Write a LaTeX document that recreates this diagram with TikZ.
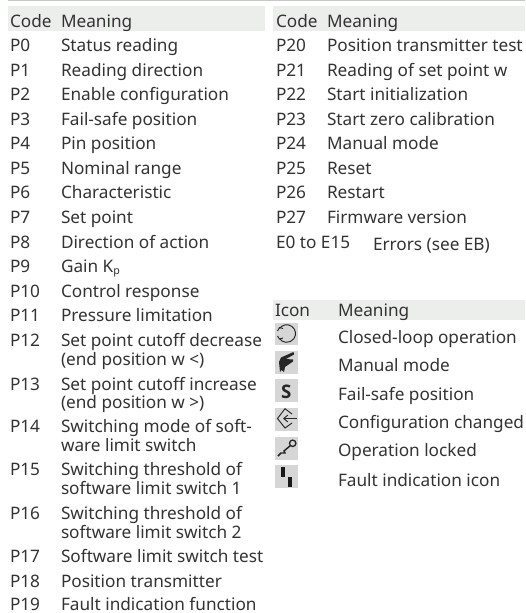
\documentclass[tikz,border=0pt]{standalone}
\usepackage{fontspec}
\usetikzlibrary{arrows.meta}
\setmainfont{Noto Sans}
\newfontfamily\iconsfont{Open Sans}
\definecolor{ink}{HTML}{333333}
\definecolor{band}{HTML}{ECEEEC}
\definecolor{iconbg}{HTML}{D6D6D6}
\definecolor{rulec}{HTML}{C8C8C8}
\tikzset{
  txt/.style={anchor=base west,inner sep=0pt,outer sep=0pt,text=ink,font=\fontsize{12.9pt}{14pt}\selectfont},
  bandbox/.style={fill=band,draw=none},
  iconbox/.style={fill=iconbg,draw=none},
  iconline/.style={draw=black!85,line width=0.7pt}
}
\begin{document}
\begin{tikzpicture}[x=0.75pt,y=-0.75pt]
\useasboundingbox (0,0) rectangle (525,613);
\fill[white] (0,0) rectangle (525,613);
\fill[rulec] (8,0) rectangle (525,1.2);
\path[bandbox] (8,6) rectangle (265,30.7);
\path[bandbox] (272.7,6) rectangle (525,30.7);
\path[bandbox] (272.7,300) rectangle (525,320);
% left column
\node[txt] (lh1) at (10,27.3) {Code};
\node[txt] (lh2) at (61,27.3) {Meaning};
\foreach \n/\y/\c/\m in {
 a/51.6/P0/Status reading, b/76.2/P1/Reading direction, c/100.7/P2/Enable configuration,
 d/125.3/P3/Fail-safe position, e/149.8/P4/Pin position, f/174.4/P5/Nominal range,
 g/198.9/P6/Characteristic, h/223.5/P7/Set point, i/248/P8/Direction of action,
 k/297/P10/Control response, l/321.6/P11/Pressure limitation,
 m/346.7/P12/Set point cutoff decrease, n/390/P13/Set point cutoff increase,
 o/432.7/P14/Switching mode of soft-, p/475.5/P15/Switching threshold of,
 q/519/P16/Switching threshold of, r/562.7/P17/Software limit switch test,
 s/587/P18/Position transmitter, t/610.7/P19/Fault indication function}{
  \node[txt] (c\n) at (10,\y) {\c};
  \node[txt] (m\n) at (61,\y) {\m};
}
\node[txt] (cj) at (10,272.6) {P9};
\node[txt] (mj) at (61,272.6) {Gain K\raisebox{-1.3pt}{\fontsize{8pt}{9pt}\selectfont p}};
\node[txt] (m2) at (61,365) {(end position w <)};
\node[txt] (n2) at (61,408.3) {(end position w >)};
\node[txt] (o2) at (61,451.7) {ware limit switch};
\node[txt] (p2) at (61,494.5) {software limit switch 1};
\node[txt] (q2) at (61,538) {software limit switch 2};
% right column
\node[txt] (rh1) at (276,27.3) {Code};
\node[txt] (rh2) at (327,27.3) {Meaning};
\foreach \n/\y/\c/\m in {
 a/51.6/P20/Position transmitter test, b/76.2/P21/Reading of set point w, c/100.7/P22/Start initialization,
 d/125.3/P23/Start zero calibration, e/149.8/P24/Manual mode, f/174.4/P25/Reset,
 g/198.9/P26/Restart, h/223/P27/Firmware version}{
  \node[txt] (rc\n) at (276,\y) {\c};
  \node[txt] (rm\n) at (327,\y) {\m};
}
\node[txt] (rci) at (276,248) {E0 to E15};
\node[txt] (rmi) at (373,250.7) {Errors (see EB)};
% icon table
\node[txt] (ih1) at (275,316.7) {Icon};
\node[txt] (ih2) at (338,316.7) {Meaning};
\node[txt] (i1) at (338,343.3) {Closed-loop operation};
\node[txt] (i2) at (338,371.7) {Manual mode};
\node[txt] (i3) at (338,400) {Fail-safe position};
\node[txt] (i4) at (338,428.3) {Configuration changed};
\node[txt] (i5) at (338,456.7) {Operation locked};
\node[txt] (i6) at (338,486) {Fault indication icon};
% icon backgrounds
\path[iconbox] (275,322.5) rectangle (298.3,345);
\path[iconbox] (275,350.7) rectangle (298.3,374);
\path[iconbox] (275,379) rectangle (298.3,401.7);
\path[iconbox] (275,407.7) rectangle (298.3,430.7);
\path[iconbox] (275,436.7) rectangle (298.3,460);
\path[iconbox] (275,465) rectangle (298.3,488);
% closed loop
\draw[iconline] (279.5,328.5) arc[start angle=215,end angle=505,radius=8.8];
\draw[iconline] (277.5,331) -- (279.5,327.5) -- (283,328.5);
\draw[iconline] (277.5,336) -- (279.5,339) -- (283,338);
% manual
\fill[black!85] (293.5,352) -- (294,354.5) -- (286,359) -- (293,359.5) -- (293,361.5) -- (285,367) -- (284,372) -- (281.5,370) -- (280,372) -- (279,362) -- (281,357.5) -- cycle;
% S
\node[anchor=base,inner sep=0pt,text=black!85,font=\iconsfont\fontsize{14pt}{15pt}\selectfont\bfseries] (is) at (286.3,398.5) {S};
% config
\draw[iconline] (292,414) -- (285,408.7) -- (277.5,418.5) -- (285,428) -- (292,423);
\draw[iconline,-{Straight Barb[length=3pt,width=5pt]}] (297,418.5) -- (283,418.5);
% key
\draw[black!85,line width=1pt] (292.7,443.3) circle[radius=3.2];
\draw[black!85,line width=1.1pt] (290.3,445.6) -- (284,451) -- (285,453) -- (281,453) -- (278,456);
% fault
\fill[black!90] (281,466.7) rectangle (285,476.7);
\fill[black!90] (288,476.7) rectangle (292,487);
\end{tikzpicture}
\end{document}
